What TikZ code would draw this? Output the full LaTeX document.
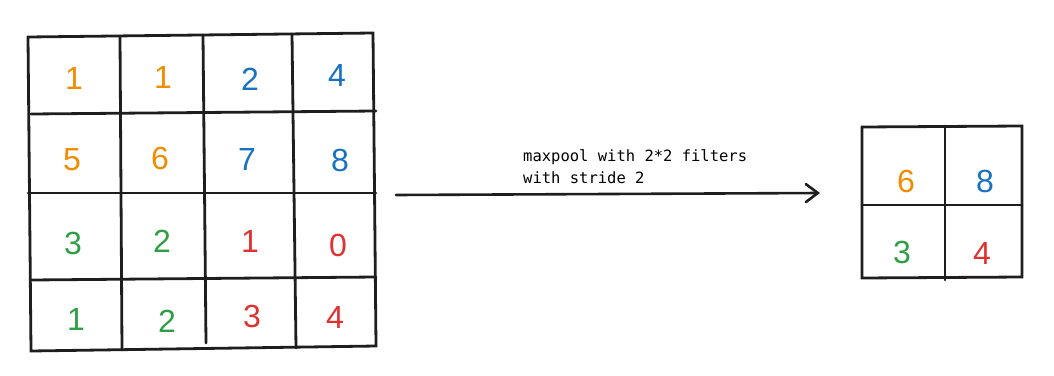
\documentclass[tikz,border=0pt]{standalone}
\usepackage{fontspec}
\setmainfont{Liberation Sans}
\newfontfamily\notefont{DejaVu Sans Mono}
\usetikzlibrary{arrows.meta, positioning}
\definecolor{Ink}   {HTML}{1E1E1E}
\definecolor{Orange}{HTML}{F08C00}
\definecolor{Blue}  {HTML}{1971C2}
\definecolor{Green} {HTML}{2F9E44}
\definecolor{Red}   {HTML}{E03131}

\begin{document}
\begin{tikzpicture}[x=1pt, y={(0pt,-1pt)},
  gridline/.style={Ink, line width=2.8pt, line cap=round},
  cell/.style={font=\fontsize{32}{34}\selectfont, inner sep=0pt},
  note/.style={font=\notefont\fontsize{15.5}{22}\selectfont, align=left, inner sep=0pt}]
  \useasboundingbox (0,0) rectangle (1054,375);

  % Input grid 4x4
  \draw[gridline] (28,37) -- (373,33) -- (376,346) -- (31,351) -- cycle;
  \draw[gridline] (120,36)  -- (122,350);
  \draw[gridline] (203,35)  -- (206,343);
  \draw[gridline] (292,34)  -- (296,348);
  \draw[gridline] (31,114)  -- (376,111);
  \draw[gridline] (28,193)  -- (376,193);
  \draw[gridline] (31,280)  -- (376,277);

  % Input values
  \node[cell, Orange] (a11) at (74,78)   {1};
  \node[cell, Orange] (a12) at (163,77)  {1};
  \node[cell, Blue]   (a13) at (250,79)  {2};
  \node[cell, Blue]   (a14) at (337,75)  {4};
  \node[cell, Orange] (a21) at (72,160)  {5};
  \node[cell, Orange] (a22) at (160,158) {6};
  \node[cell, Blue]   (a23) at (247,159) {7};
  \node[cell, Blue]   (a24) at (340,160) {8};
  \node[cell, Green]  (a31) at (73,243)  {3};
  \node[cell, Green]  (a32) at (162,241) {2};
  \node[cell, Red]    (a33) at (250,241) {1};
  \node[cell, Red]    (a34) at (338,245) {0};
  \node[cell, Green]  (a41) at (76,319)  {1};
  \node[cell, Green]  (a42) at (167,321) {2};
  \node[cell, Red]    (a43) at (252,316) {3};
  \node[cell, Red]    (a44) at (335,317) {4};

  % Pooling arrow
  \coordinate (arrowstart) at (396,195);
  \coordinate (arrowend)   at (820,193);
  \draw[Ink, line width=2.6pt, line cap=round,
        -{Straight Barb[length=12pt, width=18pt, line cap=round]}]
        (arrowstart) -- (arrowend);
  \node[note, anchor=south west] (note) at (523,184)
       {maxpool with 2*2 filters\\with stride 2};

  % Output grid 2x2
  \draw[gridline] (862,127) -- (1022,126) -- (1022,277) -- (862,278) -- cycle;
  \draw[gridline] (945,126) -- (945,280);
  \draw[gridline] (862,205) -- (1022,205);

  % Output values
  \node[cell, Orange] (b11) at (906,181) {6};
  \node[cell, Blue]   (b12) at (985,181) {8};
  \node[cell, Green]  (b21) at (902,252) {3};
  \node[cell, Red]    (b22) at (982,253) {4};
\end{tikzpicture}
\end{document}
